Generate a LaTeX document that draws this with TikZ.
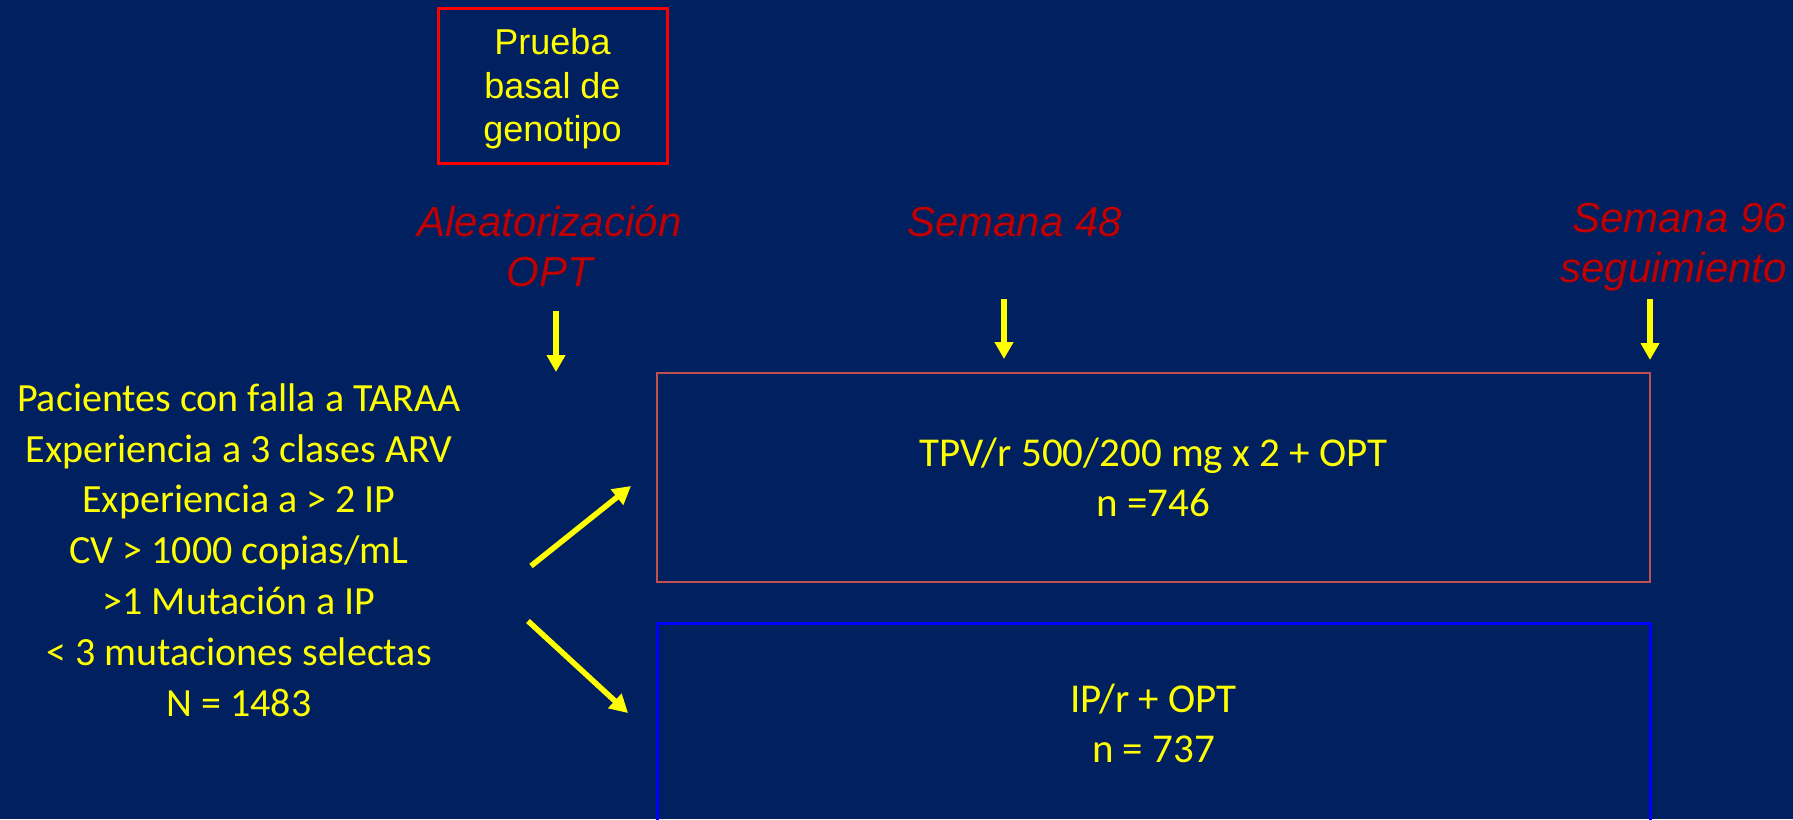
\documentclass[tikz,border=0pt]{standalone}
\usepackage{fontspec}
\setmainfont{Liberation Sans}
\newfontfamily\calibri{Carlito}
\usetikzlibrary{arrows.meta}
\definecolor{bg}{HTML}{002060}
\definecolor{ptred}{HTML}{C00000}
\definecolor{boxred}{HTML}{C0504D}
\definecolor{ylw}{HTML}{FFFF00}
\definecolor{boxblue}{HTML}{0000FF}
\begin{document}
\begin{tikzpicture}[x=1pt,y=-1pt,
  vyarrow/.style={draw=ylw, line width=6.5pt, -{Triangle[width=18pt,length=17pt]}},
  dyarrow/.style={draw=ylw, line width=5.5pt, -{Triangle[width=19pt,length=18pt]}},
  redlabel/.style={text=ptred, inner sep=0pt, font=\itshape\fontsize{42}{50}\selectfont},
  armbox/.style={draw=#1, minimum width=993pt, inner sep=0pt, text=ylw,
    font=\calibri\fontsize{41}{50}\selectfont, align=center}
]
\fill[bg] (0,0) rectangle (1793,819);
\useasboundingbox (0,0) rectangle (1793,819);
\clip (0,0) rectangle (1793,819);

% genotype test box
\node[draw=red, line width=3pt, minimum width=229pt, minimum height=155pt, inner sep=0pt,
  text=ylw, align=center, font=\fontsize{36}{43.5}\selectfont] (geno) at (552.5,85.5)
  {\rule{0pt}{33pt}Prueba\\basal de\\genotipo};

% timeline labels
\node[redlabel, align=center] (alea) at (549.5,246.5) {Aleatorización\\OPT};
\node[redlabel, anchor=base] (s48) at (1014.5,236.5) {Semana 48};
\node[redlabel, align=right, anchor=east] (s96) at (1787,247) {Semana 96\\seguimiento};

% patient criteria
\node[text=ylw, inner sep=0pt, font=\calibri\fontsize{40}{50.8}\selectfont, align=center]
  (pat) at (239,550)
  {Pacientes con falla a TARAA\\Experiencia a 3 clases ARV\\Experiencia a > 2 IP\\CV > 1000 copias/mL\\>1 Mutación a IP\\< 3 mutaciones selectas\\N = 1483};

% arms
\node[armbox=boxred, line width=2.5pt, minimum height=209pt] (tpv) at (1153.5,477.5)
  {TPV/r 500/200 mg x 2 + OPT\\n =746};
\node[armbox=boxblue, line width=3pt, minimum height=200pt] (ipr) at (1153.5,723)
  {IP/r + OPT\\n = 737};

% vertical arrows
\coordinate (a1s) at (556,311);
\coordinate (a1e) at (556,372);
\coordinate (a2s) at (1004,299);
\coordinate (a2e) at (1004,359);
\coordinate (a3s) at (1650,299);
\coordinate (a3e) at (1650,360);
\draw[vyarrow] (a1s) -- (a1e);
\draw[vyarrow] (a2s) -- (a2e);
\draw[vyarrow] (a3s) -- (a3e);

% diagonal arrows
\coordinate (d1s) at (531,566);
\coordinate (d1e) at (631,486);
\coordinate (d2s) at (528,621);
\coordinate (d2e) at (628,713);
\draw[dyarrow] (d1s) -- (d1e);
\draw[dyarrow] (d2s) -- (d2e);
\end{tikzpicture}
\end{document}
